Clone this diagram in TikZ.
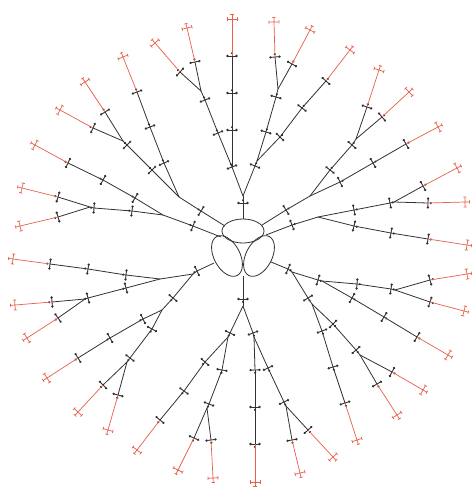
\documentclass[tikz,border=0pt]{standalone}
\usetikzlibrary{calc}
\definecolor{linec}{RGB}{50,50,50}
\definecolor{redc}{RGB}{232,95,75}
\tikzset{
  blk/.style={draw=linec, line width=0.8pt},
  rdl/.style={draw=redc, line width=0.7pt},
  loop/.style={draw=linec, line width=0.8pt},
  st/.pic={
    \draw[linec, line width=0.9pt] (0pt,-4.5pt) -- (0pt,4.5pt);
    \fill[linec] (0pt,-4.5pt) circle (1.3pt) (0pt,4.5pt) circle (1.3pt) (2.8pt,0pt) circle (1.2pt);
  },
  rend/.pic={
    \draw[redc, line width=0.7pt] (0pt,0pt) -- (4.5pt,0pt) (0pt,-5pt) -- (0pt,5pt)
      (-1.6pt,-5pt) -- (1.6pt,-5pt) (-1.6pt,5pt) -- (1.6pt,5pt) (4.5pt,-1.6pt) -- (4.5pt,1.6pt);
  }
}
\newcommand\Sx[2]{\draw[blk] (#1) -- (#2) pic[pos=1,sloped,allow upside down]{st};}
\newcommand\Sn[2]{\draw[blk] (#1) -- (#2);}
\newcommand\Se[2]{\draw[rdl] (#1) -- (#2) pic[pos=1,sloped,allow upside down]{rend};}
\begin{document}
\begin{tikzpicture}[x=1pt,y=-1pt]
\useasboundingbox[fill=white] (0,0) rectangle (473,488);
% centre loops
\draw[loop] (243,231) ellipse [x radius=21pt, y radius=12pt];
\draw[loop, rotate around={-62:(227,256)}] (227,256) ellipse [x radius=22pt, y radius=13pt];
\draw[loop, rotate around={62:(259,256)}] (259,256) ellipse [x radius=22pt, y radius=13pt];
% ---------- top ----------
\coordinate (T0) at (243,219); \coordinate (Ta) at (243,203); \coordinate (Ts) at (243,196);
\coordinate (Tp) at (232,167); \coordinate (Tq) at (218,133); \coordinate (Tr) at (205,100);
\coordinate (Tx) at (201,91); \coordinate (Tb1) at (195,62); \coordinate (Tbe1) at (187,28);
\coordinate (Tb2) at (180,72); \coordinate (Tbe2) at (155,43);
\coordinate (Tv1) at (232,130); \coordinate (Tv2) at (232,93); \coordinate (Tv3) at (232,56); \coordinate (Tve) at (232,19);
\coordinate (Tc1) at (255,166); \coordinate (Tw) at (257,161); \coordinate (Tc2) at (266,132);
\coordinate (Tc3) at (276,97); \coordinate (Ty) at (278,89); \coordinate (Td1) at (275,57); \coordinate (Tde1) at (274,22);
\coordinate (Td2) at (292,64); \coordinate (Tde2) at (310,30);
\coordinate (Te1) at (280,137); \coordinate (Te2) at (302,108); \coordinate (Te3) at (326,81); \coordinate (Tee) at (350,50);
\Sx{T0}{Ta} \Sn{Ta}{Ts} \Sx{Ts}{Tp} \Sx{Tp}{Tq} \Sx{Tq}{Tr} \Sn{Tr}{Tx}
\Sx{Tx}{Tb1} \Se{Tb1}{Tbe1} \Sx{Tx}{Tb2} \Se{Tb2}{Tbe2}
\Sx{Tp}{Tv1} \Sx{Tv1}{Tv2} \Sx{Tv2}{Tv3} \Se{Tv3}{Tve}
\Sx{Ts}{Tc1} \Sn{Tc1}{Tw} \Sx{Tw}{Tc2} \Sx{Tc2}{Tc3} \Sn{Tc3}{Ty}
\Sx{Ty}{Td1} \Se{Td1}{Tde1} \Sx{Ty}{Td2} \Se{Td2}{Tde2}
\Sx{Tw}{Te1} \Sx{Te1}{Te2} \Sx{Te2}{Te3} \Se{Te3}{Tee}
% ---------- upper right ----------
\coordinate (U0) at (262,225); \coordinate (Ua) at (286,210); \coordinate (Us) at (310,196);
\coordinate (Ub1) at (330,170); \coordinate (Ub2) at (352,145); \coordinate (Ux) at (356,139);
\coordinate (Uc1) at (367,107); \coordinate (Uce1) at (379,70);
\coordinate (Uc2) at (382,117); \coordinate (Uce2) at (409,92);
\coordinate (Ud1) at (340,182); \coordinate (Ud2) at (373,163); \coordinate (Ud3) at (406,144); \coordinate (Ude) at (438,127);
\Sx{U0}{Ua} \Sn{Ua}{Us} \Sx{Us}{Ub1} \Sx{Ub1}{Ub2} \Sn{Ub2}{Ux}
\Sx{Ux}{Uc1} \Se{Uc1}{Uce1} \Sx{Ux}{Uc2} \Se{Uc2}{Uce2}
\Sx{Us}{Ud1} \Sx{Ud1}{Ud2} \Sx{Ud2}{Ud3} \Se{Ud3}{Ude}
% ---------- right ----------
\coordinate (R0) at (266,235); \coordinate (Ra) at (292,225); \coordinate (Rs) at (318,217);
\coordinate (Rb1) at (354,210); \coordinate (Rb2) at (390,203); \coordinate (Rx) at (394,202);
\coordinate (Rc1) at (423,186); \coordinate (Rce1) at (457,168);
\coordinate (Rc2) at (428,203); \coordinate (Rce2) at (465,202);
\coordinate (Rd1) at (354,226); \coordinate (Rd2) at (391,233); \coordinate (Rd3) at (428,239); \coordinate (Rde) at (467,245);
\Sx{R0}{Ra} \Sn{Ra}{Rs} \Sx{Rs}{Rb1} \Sx{Rb1}{Rb2} \Sn{Rb2}{Rx}
\Sx{Rx}{Rc1} \Se{Rc1}{Rce1} \Sx{Rx}{Rc2} \Se{Rc2}{Rce2}
\Sx{Rs}{Rd1} \Sx{Rd1}{Rd2} \Sx{Rd2}{Rd3} \Se{Rd3}{Rde}
% ---------- lower right ----------
\coordinate (L0) at (271,262); \coordinate (La) at (288,269); \coordinate (Ls) at (292,272);
\coordinate (Lb) at (318,280); \coordinate (Lbs) at (322,281);
\coordinate (Lc1) at (357,284); \coordinate (Lc2) at (391,289); \coordinate (Lcx) at (395,290);
\coordinate (Le1) at (430,280); \coordinate (Lee1) at (467,274);
\coordinate (Le2) at (430,302); \coordinate (Lee2) at (464,311);
\coordinate (Ld1) at (352,298); \coordinate (Ld2) at (384,317); \coordinate (Ld3) at (417,337); \coordinate (Lde) at (448,355);
\coordinate (Lf) at (308,298); \coordinate (Lft) at (312,304);
\coordinate (Lg1) at (333,324); \coordinate (Lg2) at (356,350); \coordinate (Lgx) at (360,355);
\coordinate (Lh1) at (392,372); \coordinate (Lhe1) at (423,390);
\coordinate (Lh2) at (377,384); \coordinate (Lhe2) at (397,415);
\coordinate (Li1) at (322,331); \coordinate (Li2) at (333,367); \coordinate (Li3) at (345,403); \coordinate (Lie) at (357,440);
\Sx{L0}{La} \Sn{La}{Ls} \Sx{Ls}{Lb} \Sn{Lb}{Lbs}
\Sx{Lbs}{Lc1} \Sx{Lc1}{Lc2} \Sn{Lc2}{Lcx} \Sx{Lcx}{Le1} \Se{Le1}{Lee1} \Sx{Lcx}{Le2} \Se{Le2}{Lee2}
\Sx{Lbs}{Ld1} \Sx{Ld1}{Ld2} \Sx{Ld2}{Ld3} \Se{Ld3}{Lde}
\Sx{Ls}{Lf} \Sn{Lf}{Lft} \Sx{Lft}{Lg1} \Sx{Lg1}{Lg2} \Sn{Lg2}{Lgx}
\Sx{Lgx}{Lh1} \Se{Lh1}{Lhe1} \Sx{Lgx}{Lh2} \Se{Lh2}{Lhe2}
\Sx{Lft}{Li1} \Sx{Li1}{Li2} \Sx{Li2}{Li3} \Se{Li3}{Lie}
% ---------- bottom ----------
\coordinate (B0) at (243,276); \coordinate (Ba) at (243,299); \coordinate (Bs) at (243,306);
\coordinate (Bl) at (230,333); \coordinate (Blx) at (228,337);
\coordinate (Bo1) at (205,362); \coordinate (Bo2) at (184,391); \coordinate (Bo3) at (160,420); \coordinate (Boe) at (137,450);
\coordinate (Bi1) at (222,370); \coordinate (Bi2) at (209,404); \coordinate (Bix) at (207,408);
\coordinate (Bj1) at (194,438); \coordinate (Bje1) at (178,470);
\coordinate (Bj2) at (211,440); \coordinate (Bje2) at (213,478);
\coordinate (Br) at (253,333); \coordinate (Brx) at (254,337);
\coordinate (Bv1) at (255,370); \coordinate (Bv2) at (255,407); \coordinate (Bv3) at (255,444); \coordinate (Bve) at (255,482);
\coordinate (Bd1) at (268,368); \coordinate (Bd2) at (284,402); \coordinate (Bdx) at (286,406);
\coordinate (Bk1) at (292,440); \coordinate (Bke1) at (300,473);
\coordinate (Bk2) at (308,430); \coordinate (Bke2) at (333,457);
\Sx{B0}{Ba} \Sn{Ba}{Bs} \Sx{Bs}{Bl} \Sn{Bl}{Blx}
\Sx{Blx}{Bo1} \Sx{Bo1}{Bo2} \Sx{Bo2}{Bo3} \Se{Bo3}{Boe}
\Sx{Blx}{Bi1} \Sx{Bi1}{Bi2} \Sn{Bi2}{Bix} \Sx{Bix}{Bj1} \Se{Bj1}{Bje1} \Sx{Bix}{Bj2} \Se{Bj2}{Bje2}
\Sx{Bs}{Br} \Sn{Br}{Brx} \Sx{Brx}{Bv1} \Sx{Bv1}{Bv2} \Sx{Bv2}{Bv3} \Se{Bv3}{Bve}
\Sx{Brx}{Bd1} \Sx{Bd1}{Bd2} \Sn{Bd2}{Bdx} \Sx{Bdx}{Bk1} \Se{Bk1}{Bke1} \Sx{Bdx}{Bk2} \Se{Bk2}{Bke2}
% ---------- lower left ----------
\coordinate (M0) at (214,263); \coordinate (Ma) at (197,271); \coordinate (Ms) at (193,274);
\coordinate (Mb) at (160,279);
\coordinate (Mc1) at (126,275); \coordinate (Mc2) at (88,269); \coordinate (Mc3) at (50,264); \coordinate (Mce) at (13,259);
\coordinate (Md1) at (126,288); \coordinate (Md2) at (88,298); \coordinate (Mdx) at (85,299);
\coordinate (Me1) at (52,302); \coordinate (Mee1) at (15,305);
\coordinate (Me2) at (58,318); \coordinate (Mee2) at (27,338);
\coordinate (Mf) at (173,298); \coordinate (Mg) at (162,310);
\coordinate (Mh1) at (143,319); \coordinate (Mh2) at (110,338); \coordinate (Mh3) at (78,358); \coordinate (Mhe) at (47,378);
\coordinate (Mi1) at (152,329); \coordinate (Mi2) at (130,358); \coordinate (Mix) at (127,362);
\coordinate (Mj1) at (103,385); \coordinate (Mje1) at (78,412);
\coordinate (Mj2) at (118,395); \coordinate (Mje2) at (108,430);
\Sx{M0}{Ma} \Sn{Ma}{Ms} \Sn{Ms}{Mb}
\Sx{Mb}{Mc1} \Sx{Mc1}{Mc2} \Sx{Mc2}{Mc3} \Se{Mc3}{Mce}
\Sx{Mb}{Md1} \Sx{Md1}{Md2} \Sn{Md2}{Mdx} \Sx{Mdx}{Me1} \Se{Me1}{Mee1} \Sx{Mdx}{Me2} \Se{Me2}{Mee2}
\Sx{Ms}{Mf} \Sn{Mf}{Mg}
\Sx{Mg}{Mh1} \Sx{Mh1}{Mh2} \Sx{Mh2}{Mh3} \Se{Mh3}{Mhe}
\Sx{Mg}{Mi1} \Sx{Mi1}{Mi2} \Sn{Mi2}{Mix} \Sx{Mix}{Mj1} \Se{Mj1}{Mje1} \Sx{Mix}{Mj2} \Se{Mj2}{Mje2}
% ---------- upper left ----------
\coordinate (N0) at (225,226); \coordinate (Na) at (201,211); \coordinate (Nc) at (179,197);
\coordinate (Nd1) at (164,163); \coordinate (Nd2) at (150,127); \coordinate (Nd3) at (137,92); \coordinate (Nde) at (123,57);
\coordinate (Nf1) at (152,170); \coordinate (Nf2) at (127,145); \coordinate (Nfx) at (123,141);
\coordinate (Ng1) at (93,128); \coordinate (Nge1) at (60,110);
\coordinate (Ng2) at (105,112); \coordinate (Nge2) at (85,82);
\coordinate (P0) at (221,237); \coordinate (Pa) at (193,226); \coordinate (Pe) at (163,215);
\coordinate (Pb1) at (132,211); \coordinate (Pb2) at (94,208); \coordinate (Pbx) at (90,207);
\coordinate (Pc1) at (58,197); \coordinate (Pce1) at (22,188);
\coordinate (Pc2) at (58,217); \coordinate (Pce2) at (20,226);
\coordinate (Pd1) at (135,198); \coordinate (Pd2) at (103,180); \coordinate (Pd3) at (68,163); \coordinate (Pde) at (35,145);
\Sx{N0}{Na} \Sn{Na}{Nc}
\Sx{Nc}{Nd1} \Sx{Nd1}{Nd2} \Sx{Nd2}{Nd3} \Se{Nd3}{Nde}
\Sx{Nc}{Nf1} \Sx{Nf1}{Nf2} \Sn{Nf2}{Nfx} \Sx{Nfx}{Ng1} \Se{Ng1}{Nge1} \Sx{Nfx}{Ng2} \Se{Ng2}{Nge2}
\Sx{P0}{Pa} \Sn{Pa}{Pe}
\Sx{Pe}{Pb1} \Sx{Pb1}{Pb2} \Sn{Pb2}{Pbx} \Sx{Pbx}{Pc1} \Se{Pc1}{Pce1} \Sx{Pbx}{Pc2} \Se{Pc2}{Pce2}
\Sx{Pe}{Pd1} \Sx{Pd1}{Pd2} \Sx{Pd2}{Pd3} \Se{Pd3}{Pde}
\end{tikzpicture}
\end{document}
